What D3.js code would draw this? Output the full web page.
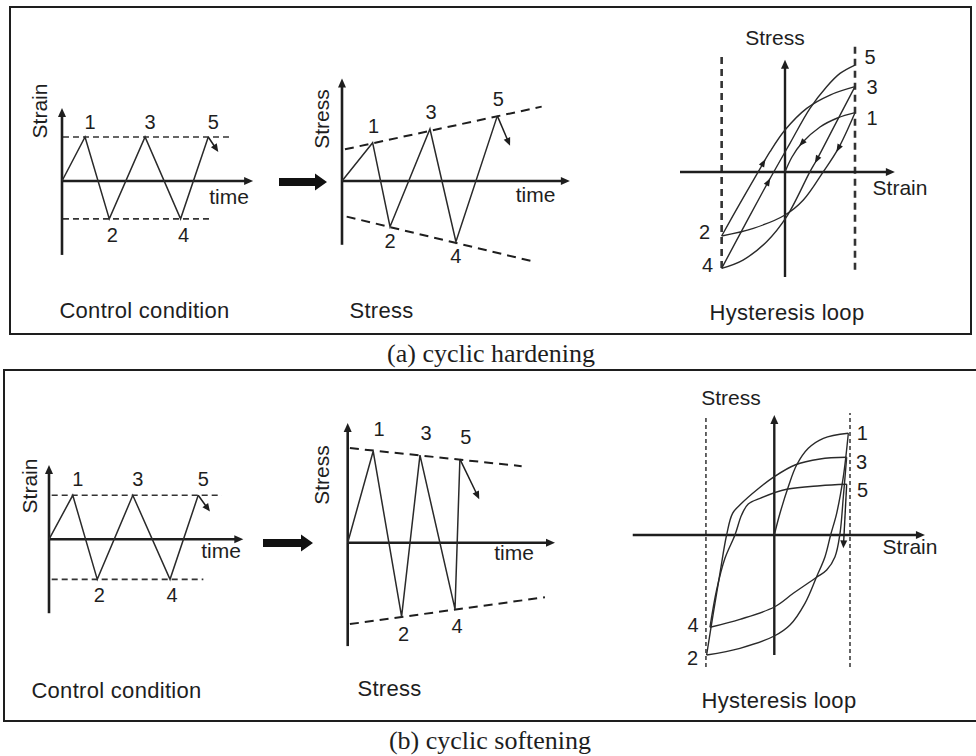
<!DOCTYPE html>
<html><head><meta charset="utf-8">
<script src="https://cdn.jsdelivr.net/npm/d3@7"></script>
<style>html,body{margin:0;padding:0;background:#fff;} svg{display:block;}</style>
</head><body>
<svg id="chart" width="976" height="756"></svg>
<script>
// ================= DATA =================
const cycleLabels = ["1", "2", "3", "4", "5"];

// (a) cyclic hardening – control condition: strain vs time
const hardCtrlTime   = [0, 0.94, 1.93, 3.39, 4.84, 5.97];
const hardCtrlStrain = [0, 1, -0.86, 1, -0.86, 1];
const hardCtrlTail   = [6.38, 0.66];
// (a) stress response vs time
const hardRespTime   = [0, 1.25, 1.96, 3.59, 4.65, 6.34];
const hardRespStress = [0, 0.87, -1.04, 1.18, -1.38, 1.48];
const hardRespTail   = [6.86, 0.80];
const hardEnvUpper   = [[0.12, 0.72], [8.15, 1.69]];
const hardEnvLower   = [[0.19, -0.81], [7.81, -1.83]];
// (a) hysteresis loop  [strain, stress]
const hardStrainLimits = [-0.905, 1.0];
const hardLoop01 = [[0, 0], [0.1, 0.25], [0.238, 0.478], [0.5, 0.75], [0.75, 0.9], [1, 0.989]];
const hardLoop12 = [[1, 0.989], [0.762, 0.394], [0.548, 0.006], [0.262, -0.467], [0, -0.717], [-0.452, -0.939], [-0.905, -1.067]];
const hardLoop23 = [[-0.905, -1.067], [-0.643, -0.522], [-0.381, 0.006], [-0.214, 0.339], [0, 0.7], [0.31, 1.061], [0.643, 1.283], [1, 1.422]];
const hardLoop34 = [[1, 1.422], [0.738, 0.839], [0.452, 0.2], [0.357, 0.006], [0.024, -0.744], [-0.262, -1.161], [-0.6, -1.467], [-0.905, -1.606]];
const hardLoop45 = [[-0.905, -1.606], [-0.548, -0.828], [-0.238, -0.161], [0.071, 0.478], [0.357, 1.061], [0.595, 1.422], [0.786, 1.644], [1, 1.783]];
// arrows on the loop: [loop index, strain, stress, direction]
const hardLoopArrows = [[2, -0.286, 0.144, 1], [4, -0.238, -0.161, 1], [0, 0.238, 0.478, -1], [3, 0.452, 0.2, 1], [1, 0.762, 0.394, 1]];

// (b) cyclic softening – control condition
const softCtrlTime   = [0, 0.97, 1.97, 3.42, 4.94, 6.09];
const softCtrlStrain = [0, 1, -0.91, 1, -0.91, 1];
const softCtrlTail   = [6.57, 0.63];
// (b) stress response
const softRespTime   = [0, 1.04, 2.2, 2.95, 4.38, 4.58];
const softRespStress = [0, 2.08, -1.68, 1.99, -1.51, 1.9];
const softRespTail   = [5.37, 0.99];
const softEnvUpper   = [[0.09, 2.15], [7.1, 1.74]];
const softEnvLower   = [[0.09, -1.85], [8.05, -1.24]];
// (b) hysteresis loop
const softStrainLimits = [-0.903, 1.0];
const softLoop01 = [[0, 0], [0.075, 0.217], [0.185, 0.483], [0.295, 0.7], [0.449, 0.867], [0.648, 0.967], [0.978, 1.017]];
const softLoop12 = [[0.978, 1.017], [0.912, 0.583], [0.824, 0.217], [0.744, 0], [0.67, -0.217], [0.559, -0.417], [0.405, -0.683], [0.207, -0.9], [0, -1.01], [-0.454, -1.133], [-0.894, -1.2]];
const softLoop23 = [[-0.894, -1.2], [-0.806, -0.783], [-0.718, -0.383], [-0.63, 0], [-0.551, 0.217], [-0.432, 0.317], [-0.233, 0.45], [0, 0.583], [0.273, 0.7], [0.604, 0.76], [0.956, 0.777]];
const softLoop34 = [[0.956, 0.777], [0.912, 0.383], [0.868, 0.017], [0.802, -0.217], [0.692, -0.35], [0.559, -0.423], [0.251, -0.583], [0, -0.72], [-0.454, -0.843], [-0.85, -0.923]];
const softLoop45 = [[-0.85, -0.923], [-0.762, -0.55], [-0.652, -0.233], [-0.52, 0], [-0.432, 0.2], [-0.344, 0.31], [-0.189, 0.367], [0.163, 0.457], [0.604, 0.493], [0.956, 0.507]];
const softLoopTail = [[0.956, 0.507], [0.912, -0.133]];

// texts
const panelCaptions = ["(a) cyclic hardening", "(b) cyclic softening"];
const subCaptions = ["Control condition", "Stress", "Hysteresis loop"];

// ================= DRAWING =================
const svg = d3.select("#chart");
const INK = "#1e1e1e";
const SANS = '"Liberation Sans", Arial, Helvetica, sans-serif';
const SERIF = '"Liberation Serif", "Times New Roman", Times, serif';

function tri(g, x, y, ang, L, Wd) {
  g.append("path")
    .attr("d", `M0,0 L${-L},${-Wd / 2} L${-L},${Wd / 2} Z`)
    .attr("transform", `translate(${x},${y}) rotate(${ang})`)
    .attr("fill", INK);
}
function arrowLine(g, x1, y1, x2, y2, sw, L, Wd) {
  const ang = Math.atan2(y2 - y1, x2 - x1) * 180 / Math.PI;
  const r = ang * Math.PI / 180;
  g.append("line").attr("x1", x1).attr("y1", y1)
    .attr("x2", x2 - Math.cos(r) * (L - 2)).attr("y2", y2 - Math.sin(r) * (L - 2))
    .attr("stroke", INK).attr("stroke-width", sw);
  tri(g, x2, y2, ang, L, Wd);
}
function label(g, x, y, txt, size, opts = {}) {
  const t = g.append("text").attr("x", x).attr("y", y).text(txt)
    .attr("font-family", opts.family || SANS).attr("font-size", size)
    .attr("fill", INK).attr("text-anchor", opts.anchor || "middle")
    .attr("dy", opts.dy != null ? opts.dy : "0.35em");
  if (opts.rotate) t.attr("transform", `rotate(${opts.rotate},${x},${y})`);
  if (opts.ls) t.attr("letter-spacing", opts.ls);
  return t;
}

// ---- frames and captions ----
svg.append("rect").attr("x", 10).attr("y", 7).attr("width", 961).attr("height", 327)
  .attr("fill", "none").attr("stroke", INK).attr("stroke-width", 2);
svg.append("rect").attr("x", 4).attr("y", 370).attr("width", 975).attr("height", 351)
  .attr("fill", "none").attr("stroke", INK).attr("stroke-width", 2);
label(svg, 491, 353, panelCaptions[0], 26, { family: SERIF });
label(svg, 490, 740, panelCaptions[1], 26, { family: SERIF });

// ---- time-history plot ----
function timePlot(cfg, times, vals, tail, env) {
  const g = svg.append("g");
  const x = d3.scaleLinear().domain([0, 1]).range([cfg.ox, cfg.ox + 24.5]);
  const y = d3.scaleLinear().domain([0, 1]).range([cfg.oy, cfg.oy - 44]);
  // dashed guides
  if (env) {
    env.forEach(e => g.append("path")
      .attr("d", d3.line().x(d => x(d[0])).y(d => y(d[1]))(e))
      .attr("stroke", INK).attr("stroke-width", 2).attr("fill", "none")
      .attr("stroke-dasharray", "9,6"));
  } else {
    const hi = d3.max(vals), lo = d3.min(vals);
    g.append("line").attr("x1", x(cfg.dashU[0])).attr("x2", x(cfg.dashU[1]))
      .attr("y1", y(hi)).attr("y2", y(hi)).attr("stroke", "#333").attr("stroke-width", 1.6)
      .attr("stroke-dasharray", "6,4");
    g.append("line").attr("x1", x(cfg.dashL[0])).attr("x2", x(cfg.dashL[1]))
      .attr("y1", y(lo)).attr("y2", y(lo)).attr("stroke", "#333").attr("stroke-width", 1.6)
      .attr("stroke-dasharray", "6,4");
  }
  // axes
  g.append("line").attr("x1", x(0)).attr("x2", x(0)).attr("y1", y(cfg.vAxis[0])).attr("y2", y(cfg.vAxis[1]) + 6)
    .attr("stroke", INK).attr("stroke-width", 2.6);
  tri(g, x(0), y(cfg.vAxis[1]), -90, 9, 8);
  g.append("line").attr("x1", x(0)).attr("x2", x(cfg.hAxis) - 6).attr("y1", y(0)).attr("y2", y(0))
    .attr("stroke", INK).attr("stroke-width", 2.6);
  tri(g, x(cfg.hAxis), y(0), 0, 9, 8);
  // zigzag
  const pts = times.map((t, i) => [t, vals[i]]);
  g.append("path").attr("d", d3.line().x(d => x(d[0])).y(d => y(d[1]))(pts))
    .attr("stroke", "#2a2a2a").attr("stroke-width", 1.5).attr("fill", "none")
    .attr("stroke-linejoin", "miter");
  const last = pts[pts.length - 1];
  arrowLine(g, x(last[0]), y(last[1]), x(tail[0]), y(tail[1]), 1.5, 8, 7);
  // cycle labels
  pts.slice(1).forEach((p, i) => {
    const peak = p[1] > 0;
    const off = peak ? cfg.offPeak : cfg.offValley;
    label(g, x(p[0]) + off[0], y(p[1]) + off[1], cycleLabels[i], 20);
  });
  // axis titles
  label(g, cfg.yTitle[0], cfg.yTitle[1], cfg.yName, 21, { rotate: -90 });
  label(g, cfg.timePos[0], cfg.timePos[1], "time", 21, { dy: 0 });
  label(g, cfg.capPos[0], cfg.capPos[1], cfg.caption, 22, { ls: 0.3 });
}

timePlot({ ox: 62, oy: 181, vAxis: [-1.68, 1.66], hAxis: 7.8, dashU: [0.04, 6.94], dashL: [0.04, 6.16],
  offPeak: [5, -15], offValley: [3, 16], yTitle: [40, 111], yName: "Strain", timePos: [229, 204],
  capPos: [144.5, 310], caption: subCaptions[0] }, hardCtrlTime, hardCtrlStrain, hardCtrlTail, null);
timePlot({ ox: 342, oy: 181, vAxis: [-1.45, 2.33], hAxis: 9.3,
  offPeak: [1, -17], offValley: [0, 14], yTitle: [322, 119], yName: "Stress", timePos: [535.5, 202],
  capPos: [381.5, 310], caption: subCaptions[1] }, hardRespTime, hardRespStress, hardRespTail, [hardEnvUpper, hardEnvLower]);
timePlot({ ox: 49, oy: 539.3, vAxis: [-1.68, 1.69], hAxis: 7.93, dashU: [0.11, 7.05], dashL: [0.11, 6.3],
  offPeak: [5, -16], offValley: [2, 16], yTitle: [30, 486], yName: "Strain", timePos: [221, 558],
  capPos: [116.5, 690], caption: subCaptions[0] }, softCtrlTime, softCtrlStrain, softCtrlTail, null);
timePlot({ ox: 347.7, oy: 542.7, vAxis: [-2.35, 2.72], hAxis: 8.46,
  offPeak: [6, -22], offValley: [2, 17], yTitle: [322, 475], yName: "Stress", timePos: [514, 560],
  capPos: [389.5, 688], caption: subCaptions[1] }, softRespTime, softRespStress, softRespTail, [softEnvUpper, softEnvLower]);

// ---- big transition arrows ----
function blockArrow(x0, x1, yc) {
  svg.append("path").attr("d",
    `M${x0},${yc - 4} L${x1 - 12},${yc - 4} L${x1 - 12},${yc - 8.5} L${x1},${yc} L${x1 - 12},${yc + 8.5} L${x1 - 12},${yc + 4} L${x0},${yc + 4} Z`)
    .attr("fill", "#111");
}
blockArrow(279, 327, 182);
blockArrow(263, 313, 543);

// ---- hysteresis plots ----
function loopPlot(cfg, loops, limits, arrows, tail) {
  const g = svg.append("g");
  const x = d3.scaleLinear().domain([0, 1]).range([cfg.ox, cfg.ox + cfg.ux]);
  const y = d3.scaleLinear().domain([0, 1]).range([cfg.oy, cfg.oy - cfg.uy]);
  // dashed strain limits
  limits.forEach((s, i) => g.append("line").attr("x1", x(s)).attr("x2", x(s))
    .attr("y1", y(cfg.dashExt[i][0])).attr("y2", y(cfg.dashExt[i][1]))
    .attr("stroke", "#333").attr("stroke-width", cfg.dashW).attr("stroke-dasharray", cfg.dash));
  // axes
  g.append("line").attr("x1", x(cfg.hAxis[0])).attr("x2", x(cfg.hAxis[1]) - 6).attr("y1", y(0)).attr("y2", y(0))
    .attr("stroke", INK).attr("stroke-width", 2.4);
  tri(g, x(cfg.hAxis[1]), y(0), 0, 9, 8);
  g.append("line").attr("x1", x(0)).attr("x2", x(0)).attr("y1", y(cfg.vAxis[0])).attr("y2", y(cfg.vAxis[1]) + 6)
    .attr("stroke", INK).attr("stroke-width", 2.4);
  tri(g, x(0), y(cfg.vAxis[1]), -90, 9, 8);
  // loops
  const line = d3.line().x(d => x(d[0])).y(d => y(d[1])).curve(d3.curveCatmullRom.alpha(0.5));
  const nodes = loops.map(l => g.append("path").attr("d", line(l)).attr("fill", "none")
    .attr("stroke", "#2a2a2a").attr("stroke-width", 1.4).node());
  // arrows along the loops
  (arrows || []).forEach(a => {
    const node = nodes[a[0]], tx = x(a[1]), ty = y(a[2]);
    const total = node.getTotalLength();
    let best = 0, bd = Infinity;
    for (let s = 0; s <= total; s += 0.5) {
      const p = node.getPointAtLength(s);
      const d = (p.x - tx) ** 2 + (p.y - ty) ** 2;
      if (d < bd) { bd = d; best = s; }
    }
    const p0 = node.getPointAtLength(Math.max(0, best - 3));
    const p1 = node.getPointAtLength(Math.min(total, best + 3));
    let ang = Math.atan2(p1.y - p0.y, p1.x - p0.x) * 180 / Math.PI;
    if (a[3] < 0) ang += 180;
    const c = node.getPointAtLength(best), r = ang * Math.PI / 180;
    tri(g, c.x + Math.cos(r) * 4, c.y + Math.sin(r) * 4, ang, 8, 6);
  });
  if (tail) arrowLine(g, x(tail[0][0]), y(tail[0][1]), x(tail[1][0]), y(tail[1][1]), 1.4, 8, 7);
  // point labels
  cfg.labels.forEach(l => {
    const pt = l.from;
    label(g, x(pt[0]) + l.off[0], y(pt[1]) + l.off[1], l.text, 20);
  });
  label(g, cfg.stressPos[0], cfg.stressPos[1], "Stress", 21);
  label(g, cfg.strainPos[0], cfg.strainPos[1], "Strain", 21);
  label(g, cfg.capPos[0], cfg.capPos[1], subCaptions[2], 22, { ls: 0.3 });
}

loopPlot({ ox: 785, oy: 172, ux: 70, uy: 60, hAxis: [-1.5, 1.57], vAxis: [-1.75, 1.87],
  dashExt: [[-1.6, 1.92], [-1.63, 2.12]], dashW: 2.6, dash: "7,5",
  stressPos: [775, 38], strainPos: [900, 188], capPos: [787, 312],
  labels: [
    { text: "1", from: hardLoop12[0], off: [17, 5] },
    { text: "2", from: hardLoop23[0], off: [-17, -4] },
    { text: "3", from: hardLoop34[0], off: [17, 0] },
    { text: "4", from: hardLoop45[0], off: [-14, -3] },
    { text: "5", from: hardLoop45[hardLoop45.length - 1], off: [15, -8] }] },
  [hardLoop01, hardLoop12, hardLoop23, hardLoop34, hardLoop45], hardStrainLimits, hardLoopArrows, null);

loopPlot({ ox: 774.3, oy: 535, ux: 75.7, uy: 100, hAxis: [-1.87, 1.99], vAxis: [-1.2, 1.2],
  dashExt: [[-1.32, 1.2], [-1.32, 1.22]], dashW: 1.5, dash: "4,3",
  stressPos: [731, 398], strainPos: [910, 547], capPos: [779, 700],
  labels: [
    { text: "1", from: softLoop12[0], off: [14, 0] },
    { text: "2", from: softLoop23[0], off: [-14, 3] },
    { text: "3", from: softLoop34[0], off: [15, 5] },
    { text: "4", from: softLoop45[0], off: [-17, -2] },
    { text: "5", from: softLoopTail[0], off: [16, 6] }] },
  [softLoop01, softLoop12, softLoop23, softLoop34, softLoop45], softStrainLimits, null, softLoopTail);
</script>
</body></html>
